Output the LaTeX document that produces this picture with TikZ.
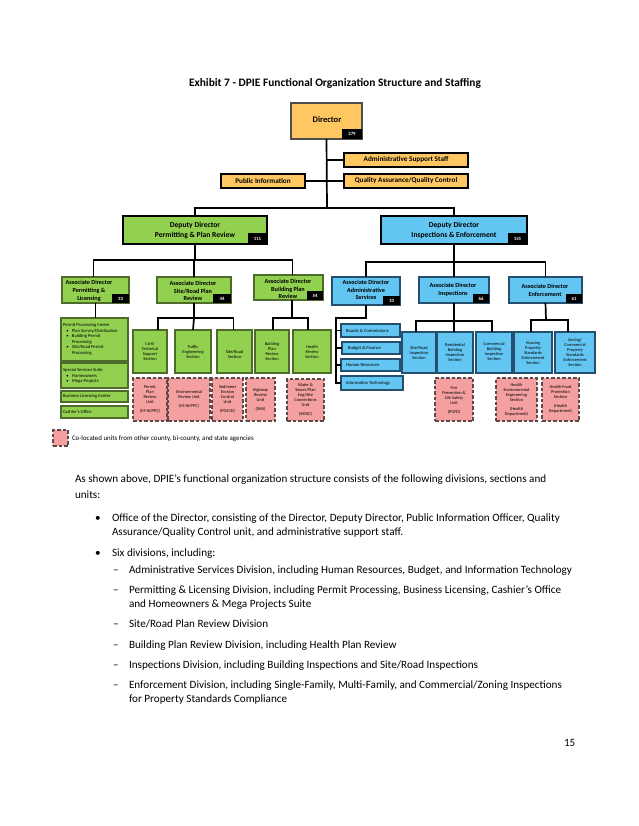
\documentclass[tikz,border=0pt]{standalone}
\usepackage{fontspec}
\setmainfont{Carlito}
\definecolor{gold}{HTML}{FFC762}
\definecolor{grn}{HTML}{92D050}
\definecolor{grnd}{HTML}{4E6B2A}
\definecolor{blu}{HTML}{63C6F2}
\definecolor{blud}{HTML}{24506E}
\definecolor{pnk}{HTML}{F5A0A0}
\definecolor{pnkd}{HTML}{5E4A4A}
\newcommand\fs[2]{\fontsize{#1}{#2}\selectfont}
\newcommand\bx[6]{\node[#1, anchor=north west, minimum width={(#5)-(#3)}, minimum height={(#6)-(#4)}] (#2) at (#3,#4) {};}
\tikzset{
  base/.style={inner sep=0pt, outer sep=0pt},
  goldbox/.style={base, draw=black, line width=1.3pt, fill=gold},
  dirbox/.style={base, draw=black!70, line width=1.3pt, fill=gold},
  depg/.style={base, draw=black, line width=1.3pt, fill=grn},
  depb/.style={base, draw=black, line width=1.3pt, fill=blu},
  grnbox/.style={base, draw=grnd, line width=1.1pt, fill=grn},
  blubox/.style={base, draw=blud, line width=1.1pt, fill=blu},
  pnkbox/.style={base, draw=pnkd, line width=1.3pt, fill=pnk, dash pattern=on 3.5pt off 2pt},
  badge/.style={base, fill=black, text=white, font=\fs{4.8}{5}\bfseries, anchor=south east},
  conn/.style={line width=1.7pt, black},
  hd/.style={base, align=center, font=\fs{7.2}{9.5}\bfseries},
  ad/.style={base, align=center, font=\fs{6.2}{7.8}\bfseries},
  sm/.style={base, align=center, font=\fs{4.4}{5}},
  lf/.style={base, align=left, anchor=west, font=\fs{4.6}{5.6}},
  body/.style={base, anchor=base west, font=\fs{11.15}{14}},
}
\begin{document}
\begin{tikzpicture}[x=1pt,y=-1pt]
\useasboundingbox (0,0) rectangle (638,826);
\fill[white] (0,0) rectangle (638,826);

% title
\node[base, font=\fs{11.4}{13}\bfseries] (title) at (335,83) {Exhibit 7 - DPIE Functional Organization Structure and Staffing};

% top level
\bx{dirbox}{dir}{291}{103}{362}{139}
\node[base, font=\fs{8.5}{10}\bfseries] (dirt) at (327,120) {Director};
\node[badge, minimum width=20pt, minimum height=10pt] (dirn) at (dir.south east) {279};

\bx{goldbox}{ass}{344}{153}{468}{167}
\node[hd] (asst) at (ass) {Administrative Support Staff};
\bx{goldbox}{qa}{344}{174}{468}{188}
\node[hd] (qat) at (qa) {Quality Assurance/Quality Control};
\bx{goldbox}{pub}{221}{174}{305}{188}
\node[hd] (pubt) at (pub) {Public Information};

% deputies
\bx{depg}{dl}{123}{216}{267}{244}
\node[hd, font=\fs{7.6}{10}\bfseries] (dlt) at (195,230) {Deputy Director\\Permitting \& Plan Review};
\node[badge, minimum width=19pt, minimum height=11pt] (dln) at (dl.south east) {111};
\bx{depb}{dr}{381}{216}{527}{244}
\node[hd, font=\fs{7.6}{10}\bfseries] (drt) at (454,230) {Deputy Director\\Inspections \& Enforcement};
\node[badge, minimum width=19pt, minimum height=11pt] (drn) at (dr.south east) {155};

% associates
\bx{grnbox}{a1}{62}{277}{129}{303}
\node[ad] (a1t) at (89,291) {Associate Director\\Permitting \&\\Licensing};
\node[badge, minimum width=17pt, minimum height=9pt] (a1n) at (a1.south east) {33};
\bx{grnbox}{a2}{157}{277}{231}{303}
\node[ad] (a2t) at (193,291) {Associate Director\\Site/Road Plan\\Review};
\node[badge, minimum width=18pt, minimum height=9pt] (a2n) at (a2.south east) {44};
\bx{grnbox}{a3}{254}{275}{323}{300}
\node[ad] (a3t) at (288,289) {Associate Director\\Building Plan\\Review};
\node[badge, minimum width=16pt, minimum height=9pt] (a3n) at (a3.south east) {54};
\bx{blubox}{adm}{332}{277}{400}{305}
\node[ad] (admt) at (366,290) {Associate Director\\Administrative\\Services};
\node[badge, minimum width=17pt, minimum height=9pt] (admn) at (adm.south east) {10};
\bx{blubox}{ins}{419}{277}{489}{303}
\node[ad] (inst) at (453,290) {Associate Director\\Inspections};
\node[badge, minimum width=16pt, minimum height=9pt] (insn) at (ins.south east) {66};
\bx{blubox}{enf}{509}{277}{582}{303}
\node[ad] (enft) at (545,290) {Associate Director\\Enforcement};
\node[badge, minimum width=16pt, minimum height=9pt] (enfn) at (enf.south east) {61};

% permitting & licensing column
\bx{grnbox}{ppc}{61}{318}{128}{361}
\node[lf] (ppct) at (63,339.5) {Permit Processing Center\\[-0.3pt]
  \hbox to 9pt{\hss\textbullet\hss}Plan Survey/Distribution\\
  \hbox to 9pt{\hss\textbullet\hss}Building Permit\\
  \hbox to 9pt{}Processing\\
  \hbox to 9pt{\hss\textbullet\hss}Site/Road Permit\\
  \hbox to 9pt{}Processing};
\bx{grnbox}{sss}{61}{363}{128}{388}
\node[lf] (ssst) at (63,376) {Special Services Suite\\
  \hbox to 9pt{\hss\textbullet\hss}Homeowners\\
  \hbox to 9pt{\hss\textbullet\hss}Mega Projects};
\bx{grnbox}{blc}{61}{391}{128}{402}
\node[lf] (blct) at (63,396.5) {Business Licensing Center};
\bx{grnbox}{cash}{61}{406}{128}{418}
\node[lf] (casht) at (63,412) {Cashier's Office};

% site/road sections
\bx{grnbox}{civ}{133}{330}{167}{373}
\node[sm] (civt) at (150,351.5) {Civil/\\Technical\\Support\\Section};
\bx{grnbox}{tra}{175}{330}{211}{373}
\node[sm] (trat) at (193,352) {Traffic\\Engineering\\Section};
\bx{grnbox}{sit}{217}{330}{252}{373}
\node[sm] (sitt) at (234.5,354) {Site/Road\\Section};
% building sections
\bx{grnbox}{bpr}{255}{330}{289}{373}
\node[sm] (bprt) at (272,351.5) {Building\\Plan\\Review\\Section};
\bx{grnbox}{hrs}{293}{330}{331}{373}
\node[sm] (hrst) at (312,352) {Health\\Review\\Section};

% admin services
\bx{blubox}{bc}{341}{324}{400}{337}
\node[lf] (bct) at (346,330.5) {Boards \& Commissions};
\bx{blubox}{bf}{342}{342}{400}{354}
\node[lf] (bft) at (348,348) {Budget \& Finance};
\bx{blubox}{hr}{341}{359}{400}{371}
\node[lf] (hrt) at (346,365) {Human Resources};
\bx{blubox}{it}{341}{376}{403}{390}
\node[lf] (itt) at (346,383) {Information Technology};

% inspections sections
\bx{blubox}{sri}{402}{332}{436}{373}
\node[sm] (srit) at (419,353) {Site/Road\\Inspection\\Section};
\bx{blubox}{rbi}{437}{332}{473}{373}
\node[sm] (rbit) at (455,352.5) {Residential\\Building\\Inspection\\Section};
\bx{blubox}{cbi}{476}{332}{512}{373}
\node[sm] (cbit) at (494,351) {Commercial\\Building\\Inspection\\Section};
% enforcement sections
\bx{blubox}{hps}{514}{332}{552}{373}
\node[sm] (hpst) at (533,353) {Housing\\Property\\Standards\\Enforcement\\Section};
\bx{blubox}{zcp}{555}{332}{595}{373}
\node[sm] (zcpt) at (575,352.5) {Zoning/\\Commercial\\Property\\Standards\\Enforcement\\Section};

% co-located units
\bx{pnkbox}{p1}{133}{378}{167}{421}
\node[sm] (p1t) at (150,399.5) {Permit\\Plan\\Review\\Unit\\[4pt](M-NCPPC)};
\bx{pnkbox}{p2}{168}{378}{210}{421}
\node[sm] (p2t) at (189,399) {Environmental\\Review Unit\\[4pt](M-NCPPC)};
\bx{pnkbox}{p3}{212}{378}{243}{421}
\node[sm] (p3t) at (227.5,399.5) {Sediment\\Erosion\\Control\\Unit\\[4pt](PGSCD)};
\bx{pnkbox}{p4}{246}{378}{275}{421}
\node[sm] (p4t) at (260.5,400) {Highway\\Review\\Unit\\[4pt](SHA)};
\bx{pnkbox}{p5}{287}{379}{324}{421}
\node[sm] (p5t) at (305.5,400) {Water \&\\Sewer/Plan\\Eng/Site\\Connections\\Unit\\[4pt](WSSC)};
\bx{pnkbox}{p6}{435}{378}{473}{421}
\node[sm] (p6t) at (454,400) {Fire\\Prevention \&\\Life Safety\\Unit\\[4pt](PGFD)};
\bx{pnkbox}{p7}{496}{378}{537}{421}
\node[sm] (p7t) at (516.5,399.5) {Health\\Environmental\\Engineering\\Section\\[4pt](Health\\Department)};
\bx{pnkbox}{p8}{542}{378}{579}{421}
\node[sm] (p8t) at (560.5,399.5) {Health Food\\Protection\\Section\\[4pt](Health\\Department)};

% legend
\bx{pnkbox}{leg}{53}{430}{68}{446}
\node[base, anchor=west, font=\fs{6.9}{8}] (legt) at (72,439) {Co-located units from other county, bi-county, and state agencies};

% connectors
\coordinate (j0) at (327,208);
\draw[conn] (dir.south) -- (j0);
\draw[conn] (dir.south |- ass.west) -- (ass.west);
\draw[conn] (pub.east) -- (qa.west);
\draw[conn] (dl.north) |- (j0) -| (dr.north);

\coordinate (jl) at (193,260);
\draw[conn] (dl.south) -- (dl.south |- jl);
\draw[conn] ([xshift=-2pt]a1.north) |- (jl) -| ([xshift=4pt]a3.north);
\draw[conn] (a2.north |- jl) -- (a2.north);

\coordinate (jr) at (454,262);
\draw[conn] (dr.south) -- (jr);
\draw[conn] (adm.north) |- (jr) -| (enf.north);
\draw[conn] (ins.north |- jr) -- (ins.north);

\draw[conn] (a1.south) -- (a1.south |- ppc.north);

\coordinate (js) at (194,318);
\draw[conn] (a2.south) -- (js);
\draw[conn] ([xshift=8pt]civ.north) |- (js) -| ([xshift=-1pt]sit.north);
\draw[conn] (js) -- (tra.north);

\coordinate (jb) at (292,318);
\draw[conn] (jb |- a3.south) -- (jb);
\draw[conn] ([xshift=1pt]bpr.north) |- (jb) -| ([xshift=-4pt]hrs.north);

\coordinate (ja) at (336,318);
\draw[conn] (adm.south) |- (ja) -- (ja |- it.west) -- (it.west);
\draw[conn] (ja |- bc.west) -- (bc.west);
\draw[conn] (ja |- bf.west) -- (bf.west);
\draw[conn] (ja |- hr.west) -- (hr.west);

\coordinate (ji) at (454,321);
\draw[conn] (ins.south) -- (ji);
\draw[conn] ([xshift=-3pt]sri.north) |- (ji) -| ([xshift=-2pt]cbi.north);
\draw[conn] (ji) -- (rbi.north -| ji);

\coordinate (je) at (546,320);
\draw[conn] (enf.south) -- (je);
\draw[conn] ([xshift=-2pt]hps.north) |- (je) -| ([xshift=-7pt]zcp.north);

% body text
\node[body] (b1) at (75,482) {As shown above, DPIE’s functional organization structure consists of the following divisions, sections and};
\node[body] (b2) at (75,498) {units:};
\node[body] (b3a) at (95,521) {\textbullet};
\node[body] (b3) at (112,521) {Office of the Director, consisting of the Director, Deputy Director, Public Information Officer, Quality};
\node[body] (b4) at (112,535) {Assurance/Quality Control unit, and administrative support staff.};
\node[body] (b5a) at (95,556) {\textbullet};
\node[body] (b5) at (112,556) {Six divisions, including:};
\node[body] (b6a) at (113,573) {–};
\node[body] (b6) at (129,573) {Administrative Services Division, including Human Resources, Budget, and Information Technology};
\node[body] (b7a) at (113,593) {–};
\node[body] (b7) at (129,593) {Permitting \& Licensing Division, including Permit Processing, Business Licensing, Cashier’s Office};
\node[body] (b8) at (129,607) {and Homeowners \& Mega Projects Suite};
\node[body] (b9a) at (113,627) {–};
\node[body] (b9) at (129,627) {Site/Road Plan Review Division};
\node[body] (b10a) at (113,648) {–};
\node[body] (b10) at (129,648) {Building Plan Review Division, including Health Plan Review};
\node[body] (b11a) at (113,668) {–};
\node[body] (b11) at (129,668) {Inspections Division, including Building Inspections and Site/Road Inspections};
\node[body] (b12a) at (113,688) {–};
\node[body] (b12) at (129,688) {Enforcement Division, including Single-Family, Multi-Family, and Commercial/Zoning Inspections};
\node[body] (b13) at (129,702) {for Property Standards Compliance};
\node[body] (pg) at (564,746) {15};
\end{tikzpicture}
\end{document}
